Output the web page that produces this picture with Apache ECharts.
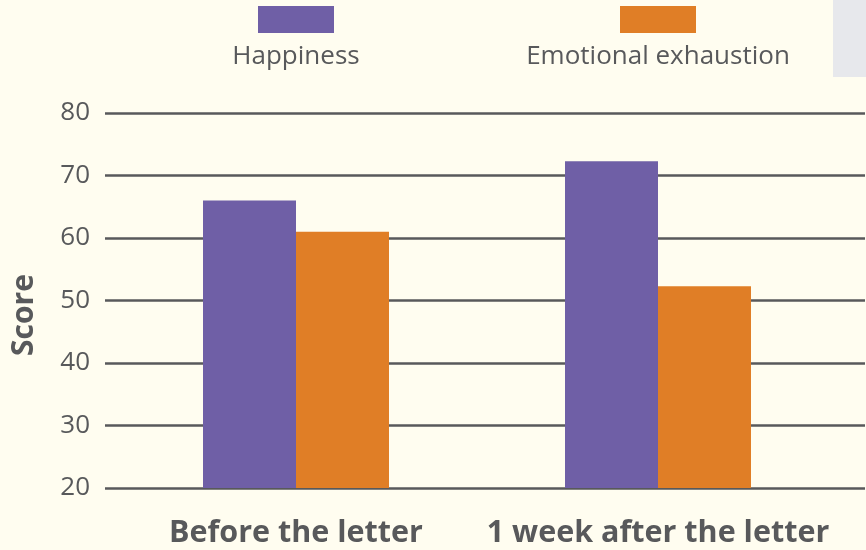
<!DOCTYPE html>
<html>
<head>
<meta charset="utf-8">
<script src="https://cdn.jsdelivr.net/npm/echarts@6/dist/echarts.min.js"></script>
<style>
    html, body { margin: 0; padding: 0; background: #fffdf0; }
    #chart { width: 866px; height: 550px; }
</style>
</head>
<body>
<div id="chart"></div>
<script>
// data
const categories = ['Before the letter', '1 week after the letter']
const happiness = [66, 72.3]
const exhaustion = [61, 52.3]
const yTicks = [20, 30, 40, 50, 60, 70, 80]

const seriesNames = ['Happiness', 'Emotional exhaustion']
const colors = ['#6f5fa6', '#e07e26']
const textColor = '#58595b'
const font = '"Open Sans", "Noto Sans", sans-serif'

let myChart = echarts.init(document.getElementById('chart'))

// legend drawn by hand: box on top, name below
let legendX = [296, 658]
let legendItems = []
seriesNames.forEach(function(name, i) {
    legendItems.push({
        type: 'rect',
        shape: { x: legendX[i] - 38, y: 6, width: 76, height: 27 },
        style: { fill: colors[i] }
    })
    legendItems.push({
        type: 'text',
        x: legendX[i], y: 57,
        style: {
            text: name, fill: textColor, font: '26px ' + font,
            textAlign: 'center', textVerticalAlign: 'middle'
        }
    })
})

myChart.setOption({
    backgroundColor: '#fffdf0',
    animation: false,
    graphic: legendItems.concat([
        // grey corner patch top right
        { type: 'rect', shape: { x: 833, y: 0, width: 33, height: 77 }, style: { fill: '#e7e8ec' } },
        {
            type: 'text', x: 24, y: 315, rotation: Math.PI / 2,
            style: {
                text: 'Score', fill: textColor, font: 'bold 30px ' + font,
                textAlign: 'center', textVerticalAlign: 'middle'
            }
        }
    ]),
    grid: [
        // grid 0 only holds the gridlines and y labels
        { left: 105, right: 1, top: 113, bottom: 62 },
        // grid 1 holds the bars
        { left: 115, right: 27, top: 113, bottom: 62 }
    ],
    xAxis: [{
        gridIndex: 0, type: 'value', show: false
    }, {
        gridIndex: 1,
        type: 'category',
        data: categories,
        axisLine: { show: false },
        axisTick: { show: false },
        axisLabel: {
            interval: 0,
            margin: 30,
            color: textColor,
            fontFamily: font,
            fontWeight: 'bold',
            fontSize: 30.5
        }
    }],
    yAxis: [{
        gridIndex: 0,
        type: 'value',
        min: yTicks[0],
        max: yTicks[yTicks.length - 1],
        interval: 10,
        axisLine: { show: false },
        axisTick: { show: false },
        splitLine: { lineStyle: { color: textColor, width: 2.5 } },
        axisLabel: {
            margin: 15,
            color: textColor,
            fontFamily: font,
            fontSize: 26,
            padding: [0, 0, 10, 0]
        }
    }, {
        gridIndex: 1,
        type: 'value',
        min: yTicks[0],
        max: yTicks[yTicks.length - 1],
        interval: 10,
        show: false,
        splitLine: { show: false }
    }],
    series: [{
        name: seriesNames[0],
        type: 'bar',
        xAxisIndex: 1,
        yAxisIndex: 1,
        barWidth: 93,
        barGap: 0,
        itemStyle: { color: colors[0] },
        data: happiness
    }, {
        name: seriesNames[1],
        type: 'bar',
        xAxisIndex: 1,
        yAxisIndex: 1,
        barWidth: 93,
        barGap: 0,
        itemStyle: { color: colors[1] },
        data: exhaustion
    }]
})
</script>
</body>
</html>
